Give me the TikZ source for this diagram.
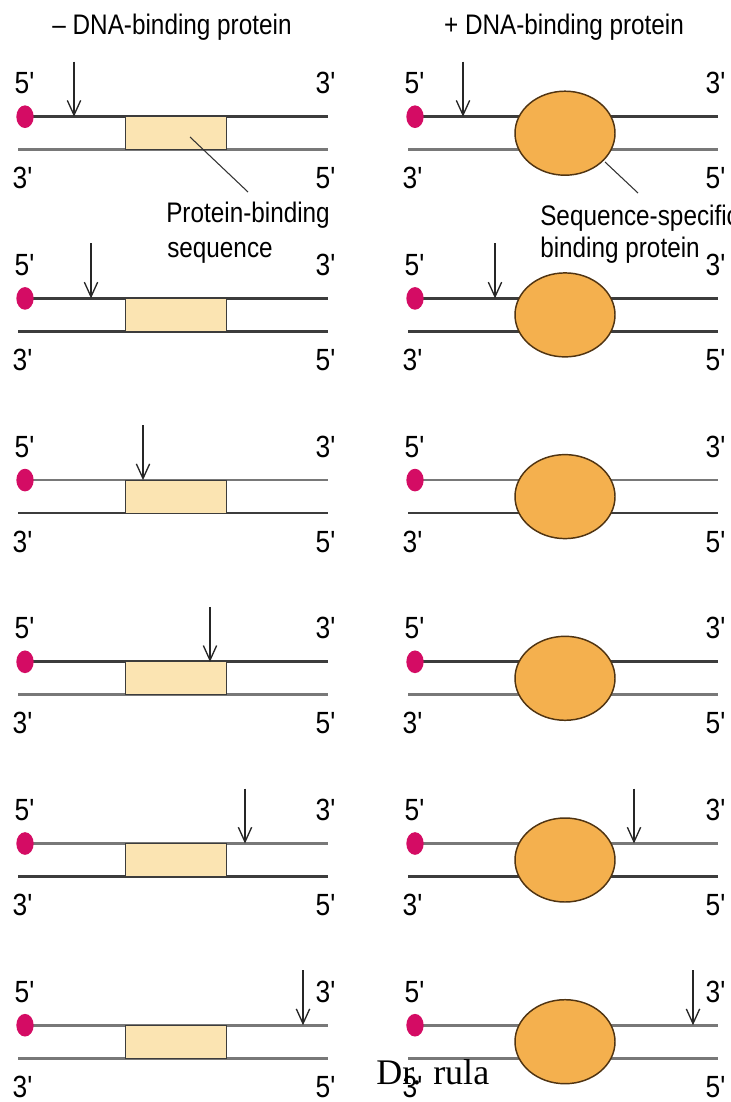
\documentclass[tikz,border=0pt]{standalone}
\usepackage{fontspec}
\setmainfont{Liberation Sans}
\newfontfamily\labfont[FakeStretch=0.86]{Liberation Sans}
\newfontfamily\sigfont{Liberation Serif}
\usetikzlibrary{arrows.meta,shapes.geometric}
\definecolor{endcap}{RGB}{212,12,100}
\definecolor{strandA}{RGB}{60,60,60}
\definecolor{strandB}{RGB}{120,120,120}
\definecolor{siteFill}{RGB}{251,228,178}
\definecolor{protFill}{RGB}{244,176,78}
\definecolor{protEdge}{RGB}{80,52,18}
\tikzset{
  endlab/.style={inner sep=0pt, anchor=base, font=\labfont\fontsize{23}{23}\selectfont},
  caption/.style={inner sep=0pt, anchor=base west, font=\labfont\fontsize{21.2}{21.2}\selectfont},
  heading/.style={inner sep=0pt, anchor=base, font=\labfont\fontsize{21.2}{21.2}\selectfont},
  capdot/.style={ellipse, fill=endcap, minimum width=13pt, minimum height=17pt, inner sep=0pt},
  site/.style={rectangle, draw=strandA, line width=0.9pt, fill=siteFill, inner sep=0pt,
    minimum width=76pt, minimum height=24.75pt},
  prot/.style={ellipse, draw=protEdge, line width=1.1pt, fill=protFill, inner sep=0pt,
    minimum width=75pt, minimum height=63pt},
  strand/.style={line width=2pt},
  cut/.style={line width=1pt, draw=black!85, -{Straight Barb[length=11pt,width=10pt,line width=1pt]}},
  leader/.style={line width=0.8pt, draw=black!80},
}
\newcommand{\fp}{5\textquotesingle}
\newcommand{\tp}{3\textquotesingle}
% one DNA duplex: #1 name prefix, #2 left x, #3 top-strand y, #4 top colour, #5 bottom colour
\newcommand{\duplex}[5]{%
  \pgfmathsetmacro{\yb}{#3+33}%
  \coordinate (#1ts) at (#2+8,#3);
  \coordinate (#1te) at (#2+311,#3);
  \coordinate (#1bs) at (#2+1,\yb);
  \coordinate (#1be) at (#2+311,\yb);
  \draw[strand,draw=#4] (#1ts) -- (#1te);
  \draw[strand,draw=#5] (#1bs) -- (#1be);
  \node[capdot] (#1dot) at (#1ts) {};
  \node[endlab] (#1l5) at (#2+8,#3-23) {\fp};
  \node[endlab] (#1r3) at (#2+309,#3-23) {\tp};
  \node[endlab] (#1l3) at (#2+6,\yb+39) {\tp};
  \node[endlab] (#1r5) at (#2+309,\yb+39) {\fp};
}
\begin{document}
\begin{tikzpicture}[x=0.75pt,y=-0.75pt]
\useasboundingbox (0,0) rectangle (731,1102);

\node[heading] (hminus) at (172,35) {– DNA-binding protein};
\node[heading] (hplus) at (564,35) {+ DNA-binding protein};

% left column: naked DNA, right column: DNA with bound protein
\foreach \r/\ty/\ct/\cb in {1/116.7/strandA/strandB, 2/298.4/strandA/strandA,
    3/480.1/strandB/strandA, 4/661.8/strandA/strandB,
    5/843.5/strandB/strandA, 6/1025.2/strandB/strandB}{
  \duplex{L\r}{17}{\ty}{\ct}{\cb}
  \duplex{R\r}{407}{\ty}{\ct}{\cb}
  \node[site] (L\r site) at (176,\ty+16.5) {};
  \node[prot] (R\r prot) at (565,\ty+16.5) {};
}

% cleavage positions
\foreach \r/\lx/\ty in {1/74/116.7, 2/91/298.4, 3/143/480.1, 4/210/661.8, 5/245/843.5, 6/303/1025.2}{
  \coordinate (L\r ct) at (\lx,\ty-55);
  \coordinate (L\r cb) at (\lx,\ty);
  \draw[cut] (L\r ct) -- (L\r cb);
}
\foreach \r/\rx/\ty in {1/463/116.7, 2/495/298.4, 5/634/843.5, 6/693/1025.2}{
  \coordinate (R\r ct) at (\rx,\ty-55);
  \coordinate (R\r cb) at (\rx,\ty);
  \draw[cut] (R\r ct) -- (R\r cb);
}

% callouts
\coordinate (siteptr) at (190,137);
\coordinate (sitetxt) at (248,192);
\draw[leader] (siteptr) -- (sitetxt);
\node[caption] (psite1) at (166,222) {Protein-binding};
\node[caption] (psite2) at (167,257) {sequence};

\coordinate (protptr) at (605,162);
\coordinate (prottxt) at (638,193);
\draw[leader] (protptr) -- (prottxt);
\node[caption] (bprot1) at (540,225) {Sequence-specific};
\node[caption] (bprot2) at (540,257) {binding protein};

\node[inner sep=0pt, anchor=base west, font=\sigfont\fontsize{27}{27}\selectfont] (sig) at (376,1084) {Dr. rula};
\end{tikzpicture}
\end{document}
